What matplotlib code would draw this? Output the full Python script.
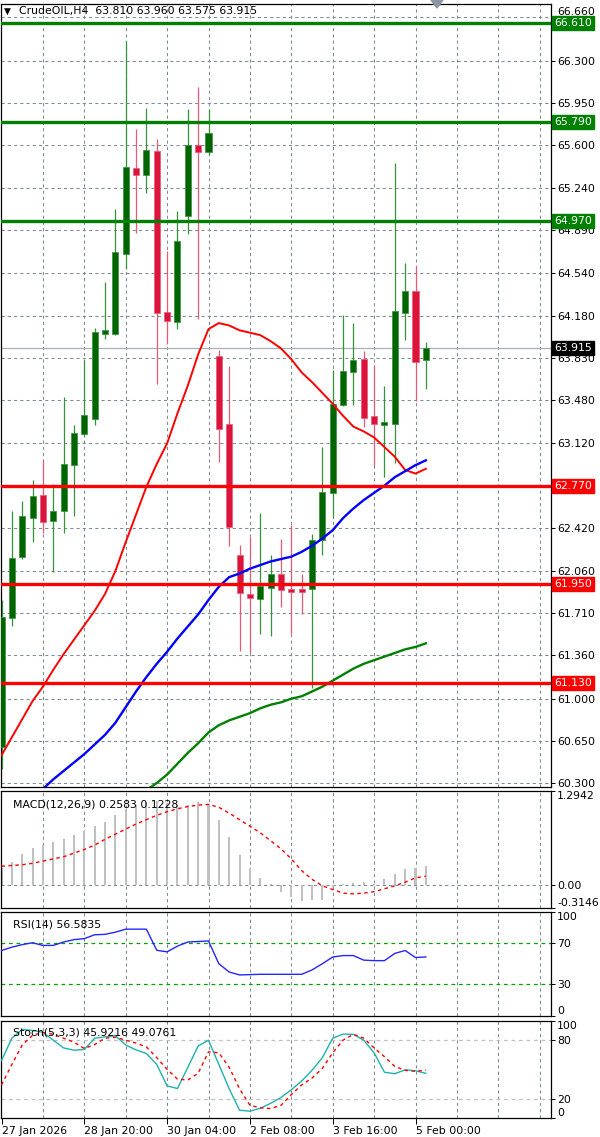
import matplotlib
matplotlib.use("Agg")
import matplotlib.pyplot as plt
from matplotlib.patches import Rectangle, Polygon
from matplotlib.transforms import blended_transform_factory
import numpy as np

plt.rcParams['font.family'] = ['DejaVu Sans']

# ---------------- data ----------------
header_text = "CrudeOIL,H4  63.810 63.960 63.575 63.915"

opens = [60.60, 61.67, 62.18, 62.50, 62.69, 62.48, 62.56, 62.94, 63.20, 63.32,
         64.03, 64.03, 64.69, 65.41, 65.35, 65.55, 64.21, 64.13, 65.01, 65.60,
         65.54, 63.85, 63.28, 62.19, 61.87, 61.83, 61.92, 62.04, 61.91, 61.91,
         61.91, 62.32, 62.71, 63.44, 63.71, 63.82, 63.35, 63.27, 63.28, 64.20,
         64.39, 63.81]
highs = [61.82, 62.56, 62.64, 62.82, 62.98, 62.78, 63.51, 63.27, 63.81, 64.08,
         64.46, 65.07, 66.46, 65.73, 65.91, 65.65, 64.72, 65.05, 65.90, 66.08,
         65.90, 63.90, 63.76, 62.28, 62.34, 62.54, 62.19, 62.33, 62.44, 62.04,
         62.37, 63.09, 63.73, 64.19, 64.12, 63.89, 63.77, 63.60, 65.45, 64.62,
         64.59, 63.96]
lows = [60.42, 61.60, 62.16, 62.30, 62.38, 62.05, 62.38, 62.52, 63.18, 63.27,
        63.99, 64.02, 64.57, 64.87, 65.20, 63.61, 63.95, 64.07, 64.86, 64.15,
        65.52, 62.97, 62.27, 61.40, 61.38, 61.54, 61.52, 61.76, 61.54, 61.70,
        61.09, 62.19, 62.50, 63.43, 63.44, 63.26, 62.93, 62.84, 62.96, 63.98,
        63.47, 63.575]
closes = [61.68, 62.17, 62.52, 62.68, 62.47, 62.56, 62.95, 63.21, 63.36, 64.05,
          64.06, 64.71, 65.42, 65.35, 65.56, 64.20, 64.14, 64.80, 65.60, 65.54,
          65.70, 63.24, 62.43, 61.88, 61.84, 61.94, 62.04, 61.90, 61.89, 61.89,
          62.32, 62.72, 63.45, 63.72, 63.81, 63.33, 63.28, 63.30, 64.22, 64.39,
          63.80, 63.915]

ma_red = [60.53, 60.68, 60.83, 60.98, 61.10, 61.24, 61.37, 61.49, 61.61, 61.73,
          61.87, 62.06, 62.30, 62.53, 62.76, 62.95, 63.12, 63.37, 63.60, 63.86,
          64.07, 64.12, 64.10, 64.06, 64.04, 64.02, 63.97, 63.91, 63.82, 63.71,
          63.63, 63.54, 63.45, 63.35, 63.26, 63.22, 63.17, 63.09, 63.01, 62.90,
          62.87, 62.91]
ma_blue = [59.96, 60.03, 60.10, 60.17, 60.25, 60.33, 60.40, 60.47, 60.54, 60.62,
           60.70, 60.80, 60.93, 61.06, 61.18, 61.29, 61.39, 61.50, 61.60, 61.70,
           61.82, 61.93, 62.01, 62.04, 62.08, 62.11, 62.14, 62.16, 62.18, 62.22,
           62.27, 62.33, 62.40, 62.50, 62.58, 62.65, 62.71, 62.77, 62.84, 62.89,
           62.94, 62.98]
ma_green = [np.nan] * 13 + [
           60.17, 60.24, 60.30, 60.37, 60.46, 60.55, 60.63, 60.72, 60.78, 60.82,
           60.85, 60.88, 60.92, 60.95, 60.97, 61.00, 61.02, 61.06, 61.10, 61.15,
           61.20, 61.25, 61.29, 61.32, 61.35, 61.38, 61.41, 61.43, 61.46]

resistance_levels = [66.61, 65.79, 64.97]
support_levels = [62.77, 61.95, 61.13]
last_price = 63.915

price_ticks = [60.300, 60.650, 61.000, 61.360, 61.710, 62.060, 62.420, 62.770,
               63.120, 63.480, 63.830, 64.180, 64.540, 64.890, 65.240, 65.600,
               65.950, 66.300, 66.660]

macd_hist = [0.24, 0.32, 0.43, 0.51, 0.55, 0.59, 0.64, 0.69, 0.74, 0.81,
             0.87, 0.96, 1.04, 1.10, 1.14, 1.15, 1.13, 1.10, 1.10, 1.14,
             1.12, 0.89, 0.66, 0.42, 0.23, 0.10, 0.01, -0.10, -0.16, -0.22,
             -0.21, -0.20, -0.03, 0.01, 0.03, 0.04, 0.01, 0.08, 0.15, 0.22,
             0.23, 0.2583]
macd_signal = [0.26, 0.27, 0.28, 0.30, 0.33, 0.36, 0.39, 0.44, 0.49, 0.55,
               0.63, 0.70, 0.77, 0.84, 0.90, 0.96, 1.01, 1.05, 1.08, 1.10,
               1.11, 1.07, 0.99, 0.90, 0.81, 0.72, 0.61, 0.50, 0.36, 0.20,
               0.08, -0.01, -0.06, -0.11, -0.12, -0.11, -0.09, -0.05, -0.01, 0.04,
               0.10, 0.1228]
macd_label = "MACD(12,26,9) 0.2583 0.1228"
macd_ticks = [1.2942, 0.0, -0.3146]
macd_tick_labels = ["1.2942", "0.00", "-0.3146"]

rsi = [62.8, 66.0, 68.5, 70.3, 67.7, 67.7, 71.0, 73.3, 74.3, 78.0,
       78.4, 80.5, 83.4, 83.4, 83.4, 63.0, 61.5, 67.0, 71.0, 71.5,
       72.0, 50.0, 42.0, 39.2, 39.5, 39.8, 39.8, 39.8, 39.8, 39.8,
       44.0, 50.0, 56.5, 57.9, 57.9, 53.5, 53.0, 53.0, 60.0, 62.8,
       56.0, 56.5835]
rsi_label = "RSI(14) 56.5835"
rsi_levels = [70, 30]
rsi_ticks = [100, 70, 30, 0]

stoch_k = [59.0, 82.0, 91.0, 90.0, 88.0, 80.0, 72.0, 69.7, 70.4, 82.0,
           83.4, 84.5, 75.0, 70.0, 66.3, 55.0, 33.0, 30.3, 52.0, 74.0,
           80.0, 55.0, 30.0, 8.0, 7.0, 10.0, 15.0, 21.0, 29.0, 38.0,
           49.0, 62.0, 82.0, 86.2, 86.0, 80.0, 67.0, 47.0, 45.5, 49.5,
           48.5, 45.9216]
stoch_d = [34.0, 55.0, 75.0, 85.0, 88.0, 86.0, 82.0, 78.0, 71.4, 75.5,
           82.0, 83.0, 80.0, 77.0, 73.0, 62.0, 50.0, 40.0, 39.0, 46.0,
           68.0, 67.0, 52.0, 30.0, 13.0, 10.5, 9.7, 13.0, 24.0, 34.0,
           41.0, 51.0, 67.0, 80.0, 86.0, 82.0, 72.0, 63.0, 53.0, 49.0,
           48.0, 49.0761]
stoch_label = "Stoch(5,3,3) 45.9216 49.0761"
stoch_levels = [80, 20]
stoch_ticks = [100, 80, 20, 0]

time_labels = ["27 Jan 2026", "28 Jan 20:00", "30 Jan 04:00",
               "2 Feb 08:00", "3 Feb 16:00", "5 Feb 00:00"]
time_label_bars = [0, 8, 16, 24, 32, 40]

# ---------------- layout ----------------
W, H = 600, 1137
fig = plt.figure(figsize=(W / 100, H / 100), dpi=100)
fig.patch.set_facecolor('white')

BAR_PX = 10.35
X0_PX = 1.5
LEFT_PX, RIGHT_PX = 1, 551
xlim = ((LEFT_PX - X0_PX) / BAR_PX, (RIGHT_PX - X0_PX) / BAR_PX)


def axes_px(top, bottom):
    return fig.add_axes([LEFT_PX / W, 1 - bottom / H, (RIGHT_PX - LEFT_PX) / W, (bottom - top) / H])


ax_main = axes_px(4, 787)
ax_macd = axes_px(791, 908)
ax_rsi = axes_px(912, 1015.5)
ax_sto = axes_px(1020.7, 1118)

GRID_C = '#7d8a97'
FS = 7.8
n = len(opens)
idx = np.arange(n)
grid_bars = list(range(4, 53, 4))

for ax in (ax_main, ax_macd, ax_rsi, ax_sto):
    ax.set_xlim(*xlim)
    for s in ax.spines.values():
        s.set_color('black')
        s.set_linewidth(0.9)
    ax.yaxis.tick_right()
    ax.tick_params(axis='y', direction='out', length=3, width=0.7, pad=1.5,
                   labelsize=FS, colors='black')
    ax.tick_params(axis='x', bottom=False, labelbottom=False)
    for g in grid_bars:
        ax.axvline(g, color=GRID_C, lw=0.75, ls=(0, (3, 3)), zorder=1)

# ---- main panel ----
ax = ax_main
ylo = 60.3 - (787 - 783) / 120.4
yhi = 60.3 + (783 - 4) / 120.4
ax.set_ylim(ylo, yhi)
level_values = [round(v, 3) for v in resistance_levels + support_levels]
ax.set_yticks(price_ticks)
# a tick label that sits exactly under a level box of the same value is hidden by it
ax.set_yticklabels(["" if round(p, 3) in level_values else f"{p:.3f}" for p in price_ticks])
# the top label peeks out above the 66.610 box, as in the reference
ax.get_yticklabels()[-1].set_va('bottom')
for p in price_ticks:
    ax.axhline(p, color=GRID_C, lw=0.75, ls=(0, (3, 3)), zorder=1)

ax.axhline(last_price, color='#a7b0b8', lw=0.9, zorder=2)

for i, (o, h, l, c) in enumerate(zip(opens, highs, lows, closes)):
    up = c >= o
    wick_c = '#35913a' if up else '#e55a76'
    body_c = '#006400' if up else '#dc143c'
    ax.vlines(i, l, h, color=wick_c, lw=0.9, zorder=3)
    bot = min(o, c)
    ht = max(abs(c - o), 0.02)
    ax.add_patch(Rectangle((i - 0.29, bot), 0.58, ht, fc=body_c, ec=wick_c,
                           lw=0.5, zorder=4))

ax.plot(idx, ma_red, color='#ff0000', lw=1.4, zorder=5)
ax.plot(idx, ma_blue, color='#0000ff', lw=1.7, zorder=5)
ax.plot(idx, ma_green, color='#008000', lw=1.7, zorder=5)

trans_m = blended_transform_factory(ax.transAxes, ax.transData)
for lv in resistance_levels:
    ax.axhline(lv, color='#008000', lw=2.4, zorder=6)
    ax.text(1.0 + 3 / 550, lv, f"{lv:.3f}", transform=trans_m, ha='left', va='center',
            fontsize=FS, color='white', zorder=10, clip_on=False,
            bbox=dict(boxstyle='square,pad=0.18', fc='#008000', ec='#008000'))
for lv in support_levels:
    ax.axhline(lv, color='#ff0000', lw=2.4, zorder=6)
    ax.text(1.0 + 3 / 550, lv, f"{lv:.3f}", transform=trans_m, ha='left', va='center',
            fontsize=FS, color='white', zorder=10, clip_on=False,
            bbox=dict(boxstyle='square,pad=0.18', fc='#ff0000', ec='#ff0000'))
ax.text(1.0 + 3 / 550, last_price, f"{last_price:.3f}", transform=trans_m, ha='left',
        va='center', fontsize=FS, color='white', zorder=10, clip_on=False,
        bbox=dict(boxstyle='square,pad=0.18', fc='black', ec='black'))

ax.text(3 / 550, 1 - 7 / 783, "\u25bc", transform=ax.transAxes, ha='left', va='center',
        fontsize=6.5, color='black', zorder=11)
ax.text(18 / 550, 1 - 7 / 783, header_text, transform=ax.transAxes, ha='left',
        va='center', fontsize=FS, color='black', zorder=11)

# ---- MACD ----
ax = ax_macd
ax.set_ylim(-0.3146, 1.2942)
ax.bar(idx, macd_hist, width=0.2, color='#c0c0c0', zorder=2)
ax.plot(idx, macd_signal, color='#ff0000', lw=1.0, ls=(0, (2.5, 2.5)), zorder=3)
ax.axhline(0, color=GRID_C, lw=0.75, ls=(0, (3, 3)), zorder=1)
ax.set_yticks(macd_ticks)
ax.set_yticklabels(macd_tick_labels)
tl = ax.get_yticklabels()
tl[0].set_va('top')
tl[2].set_va('bottom')
ax.text(12 / 550, 0.93, macd_label, transform=ax.transAxes, ha='left', va='top',
        fontsize=FS, color='black', zorder=10)

# ---- RSI ----
ax = ax_rsi
ax.set_ylim(0, 100)
ax.plot(idx, rsi, color='#2525ff', lw=1.0, zorder=3)
for lv in rsi_levels:
    ax.axhline(lv, color='#00a000', lw=0.9, ls=(0, (3, 3)), zorder=2)
ax.set_yticks(rsi_ticks)
ax.set_yticklabels([str(t) for t in rsi_ticks])
tl = ax.get_yticklabels()
tl[0].set_va('top')
tl[3].set_va('bottom')
ax.text(12 / 550, 0.93, rsi_label, transform=ax.transAxes, ha='left', va='top',
        fontsize=FS, color='black', zorder=10)

# ---- Stochastic ----
ax = ax_sto
ax.set_ylim(0, 100)
for lv in stoch_levels:
    ax.axhline(lv, color='#c0c0c0', lw=0.9, ls=(0, (3, 3)), zorder=2)
ax.plot(idx, stoch_k, color='#20b2aa', lw=1.0, zorder=3)
ax.plot(idx, stoch_d, color='#ff0000', lw=1.0, ls=(0, (2.5, 2.5)), zorder=3)
ax.set_yticks(stoch_ticks)
ax.set_yticklabels([str(t) for t in stoch_ticks])
tl = ax.get_yticklabels()
tl[0].set_va('top')
tl[3].set_va('bottom')
ax.text(12 / 550, 0.93, stoch_label, transform=ax.transAxes, ha='left', va='top',
        fontsize=FS, color='black', zorder=10)

ax.tick_params(axis='x', bottom=True, labelbottom=True, direction='out', length=4,
               width=0.7, pad=2, labelsize=FS, colors='black')
ax.set_xticks(time_label_bars)
ax.set_xticklabels(time_labels)
for t in ax.get_xticklabels():
    t.set_ha('left')

# chart-shift marker at top
fig.patches.append(Polygon([[431 / W, 1.0], [443 / W, 1.0], [437 / W, 1 - 8 / H]],
                           closed=True, transform=fig.transFigure, fc='#8c97a3',
                           ec='#8c97a3', figure=fig))

fig.savefig('out.png', dpi=100, facecolor='white')
